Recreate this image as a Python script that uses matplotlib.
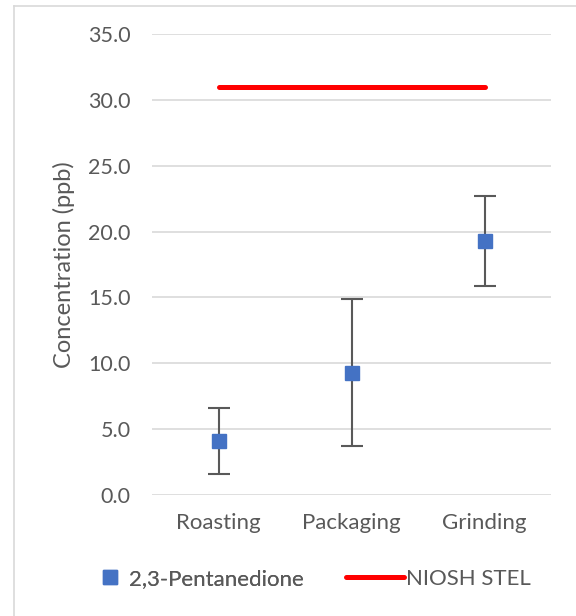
import matplotlib
matplotlib.use("Agg")
import matplotlib.pyplot as plt
from matplotlib.lines import Line2D

categories = ["Roasting", "Packaging", "Grinding"]
means = [4.1, 9.3, 19.3]
upper = [6.6, 14.9, 22.7]
lower = [1.6, 3.7, 15.9]
stel_value = 31.0
yticks = [0, 5, 10, 15, 20, 25, 30, 35]

plt.rcParams['font.family'] = ['Lato', 'DejaVu Sans']
txt = '#595959'

fig = plt.figure(figsize=(5.76, 6.16), dpi=100)
ax = fig.add_axes([152/576, 1-495/616, 399/576, 461/616])

x = list(range(len(categories)))
yerr = [[m - l for m, l in zip(means, lower)], [u - m for m, u in zip(means, upper)]]
ax.errorbar(x, means, yerr=yerr, fmt='none', ecolor='#595959', elinewidth=1.5,
            capsize=8, capthick=1.5, zorder=3)
ax.plot(x, means, linestyle='none', marker='s', markersize=10, color='#4472C4',
        markeredgecolor='#4472C4', zorder=4)
ax.plot(x, [stel_value]*len(x), color='#FF0000', linewidth=3.6,
        solid_capstyle='round', zorder=2)

ax.set_xlim(-0.5, len(categories)-0.5)
ax.set_ylim(0, 35)
ax.set_yticks(yticks)
ax.set_yticklabels([f"{v:.1f}" for v in yticks])
ax.set_xticks(x)
ax.set_xticklabels(categories)
ax.tick_params(axis='both', length=0, labelcolor=txt)
ax.tick_params(axis='y', pad=15.5, labelsize=15.5)
ax.tick_params(axis='x', pad=13, labelsize=16)
ax.grid(axis='y', color='#D9D9D9', linewidth=1.2)
ax.set_axisbelow(True)
for s in ax.spines.values():
    s.set_visible(False)
ax.set_ylabel("Concentration (ppb)", fontsize=17, color=txt, labelpad=9)

# legends
h1 = Line2D([], [], linestyle='none', marker='s', markersize=10, color='#4472C4')
leg1 = fig.legend([h1], ["2,3-Pentanedione"], loc='center left',
                  bbox_to_anchor=(102/576, 1-579/616), frameon=False,
                  fontsize=16, handlelength=0.7, handletextpad=0.5,
                  borderpad=0, borderaxespad=0, labelcolor=txt)
h2 = Line2D([], [], color='#FF0000', linewidth=3.6, solid_capstyle='round')
leg2 = fig.legend([h2], ["NIOSH STEL"], loc='center left',
                  bbox_to_anchor=(346/576, 1-579/616), frameon=False,
                  fontsize=16, handlelength=2.6, handletextpad=0.1,
                  borderpad=0, borderaxespad=0, labelcolor=txt)
fig.add_artist(leg1)

# chart border (top and left visible)
fig.add_artist(Line2D([14/576, 14/576], [0, 1-5.5/616], transform=fig.transFigure,
                      color='#D9D9D9', linewidth=1.2))
fig.add_artist(Line2D([14/576, 1], [1-5.5/616, 1-5.5/616], transform=fig.transFigure,
                      color='#D9D9D9', linewidth=1.2))

fig.savefig("out.png", dpi=100)
